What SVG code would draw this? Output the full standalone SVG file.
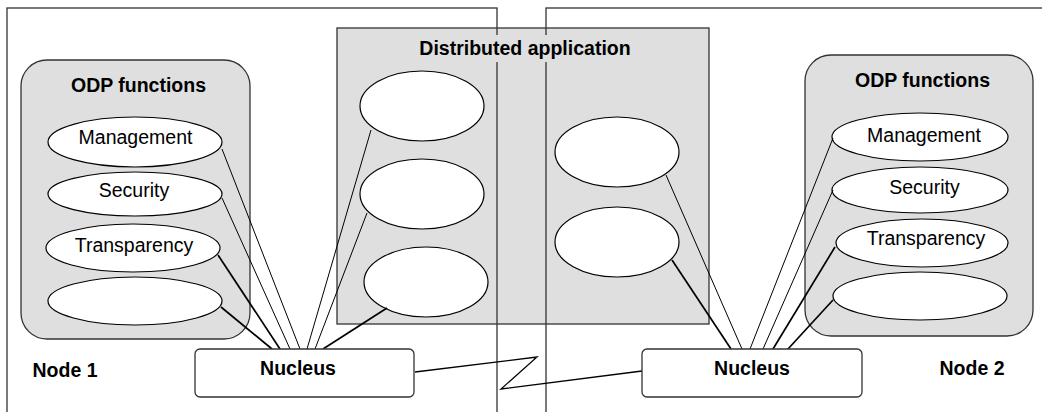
<svg xmlns="http://www.w3.org/2000/svg" width="1042" height="412" viewBox="0 0 1042 412">
<style>
text{font-family:"Liberation Sans",Arial,sans-serif;font-size:19.5px;fill:#000;text-anchor:middle}
.b{font-weight:bold}
.frame{fill:none;stroke:#333;stroke-width:1.3}
.grey{fill:#dfdfdf;stroke:#333;stroke-width:1.3}
.ell{fill:#fff;stroke:#000;stroke-width:1.2}
.box{fill:#fff;stroke:#333;stroke-width:1.3}
.thin{fill:none;stroke:#000;stroke-width:1}
.thick{fill:none;stroke:#000;stroke-width:1.7}
</style>
<rect width="1042" height="412" fill="#fff"/>
<g id="distributed-application">
<rect class="grey" x="337" y="28" width="372" height="296"/>
</g>
<g id="node1">
<rect class="frame" x="7" y="8" width="490" height="420"/>
<text class="b" x="65" y="377">Node 1</text>
</g>
<g id="node2">
<rect class="frame" x="546" y="8" width="520" height="420"/>
<text class="b" x="972" y="375">Node 2</text>
</g>
<g id="app-title">
<rect x="415" y="35" width="220" height="27" fill="#dfdfdf"/>
<text class="b" x="525" y="55">Distributed application</text>
</g>
<g id="app-objects">
<ellipse class="ell" cx="422" cy="106" rx="62" ry="35"/>
<ellipse class="ell" cx="422" cy="194" rx="62" ry="35"/>
<ellipse class="ell" cx="426" cy="282" rx="62" ry="35"/>
<ellipse class="ell" cx="617" cy="152" rx="62" ry="35"/>
<ellipse class="ell" cx="617" cy="242" rx="62" ry="35"/>
</g>
<g id="odp1">
<rect class="grey" x="21" y="60" width="229" height="279" rx="26" ry="26"/>
<text class="b" x="138.5" y="92">ODP functions</text>
<ellipse class="ell" cx="135" cy="142" rx="87" ry="25"/>
<text x="135.5" y="144">Management</text>
<ellipse class="ell" cx="135" cy="194" rx="87" ry="22"/>
<text x="134" y="197">Security</text>
<ellipse class="ell" cx="133" cy="248" rx="87" ry="24"/>
<text x="134" y="252">Transparency</text>
<ellipse class="ell" cx="135" cy="301" rx="87" ry="24"/>
</g>
<g id="odp2">
<rect class="grey" x="805" y="55" width="228" height="281" rx="26" ry="26"/>
<text class="b" x="922.5" y="87">ODP functions</text>
<ellipse class="ell" cx="920" cy="137" rx="88" ry="24"/>
<text x="924" y="142">Management</text>
<ellipse class="ell" cx="920" cy="190" rx="88" ry="23"/>
<text x="924.5" y="194">Security</text>
<ellipse class="ell" cx="922" cy="243" rx="86" ry="24"/>
<text x="926" y="245">Transparency</text>
<ellipse class="ell" cx="920" cy="296" rx="87" ry="24"/>
</g>
<g id="connectors">
<line class="thin" x1="222" y1="149" x2="300" y2="349"/>
<line class="thin" x1="222" y1="198" x2="290" y2="349"/>
<line class="thick" x1="218" y1="255" x2="280" y2="349"/>
<line class="thick" x1="221" y1="307" x2="272" y2="349"/>
<line class="thin" x1="371" y1="130" x2="307" y2="349"/>
<line class="thin" x1="367" y1="213" x2="315" y2="349"/>
<line class="thick" x1="387" y1="308" x2="323" y2="349"/>
<line class="thin" x1="666" y1="175" x2="742" y2="349"/>
<line class="thick" x1="672" y1="260" x2="731" y2="349"/>
<line class="thin" x1="833" y1="138" x2="750" y2="349"/>
<line class="thin" x1="833" y1="190" x2="763" y2="349"/>
<line class="thick" x1="835" y1="247" x2="773" y2="349"/>
<line class="thick" x1="833" y1="300" x2="788" y2="349"/>
<polyline class="thick" points="415,372 537,357 501,389 642,371" style="stroke-width:1.3"/>
</g>
<g id="nucleus1">
<rect class="box" x="195" y="349" width="219" height="48" rx="5" ry="5"/>
<text class="b" x="298" y="375">Nucleus</text>
</g>
<g id="nucleus2">
<rect class="box" x="642" y="349" width="220" height="48" rx="5" ry="5"/>
<text class="b" x="752" y="375">Nucleus</text>
</g>
</svg>
